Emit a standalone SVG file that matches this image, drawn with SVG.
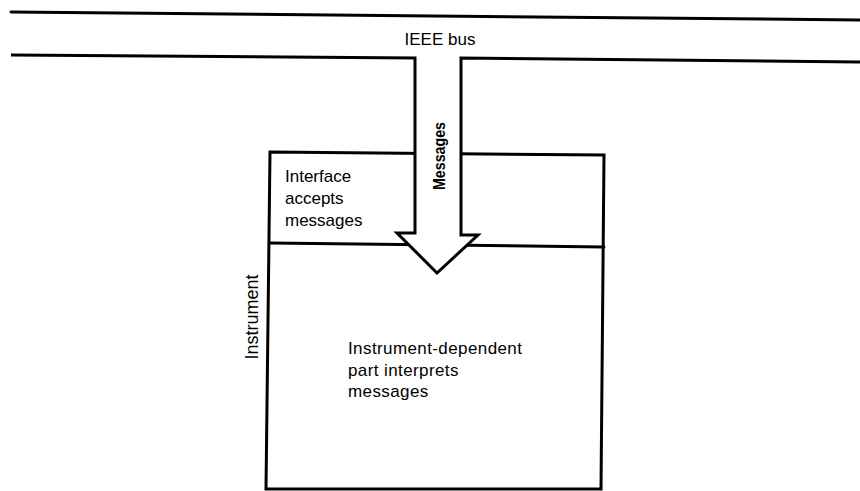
<svg xmlns="http://www.w3.org/2000/svg" width="860" height="491" viewBox="0 0 860 491">
<style>
.ln{fill:none;stroke:#000;stroke-width:3;stroke-linejoin:miter;stroke-linecap:round}
.ar{fill:#fff;stroke:#000;stroke-width:3;stroke-linejoin:miter}
text{font-family:"Liberation Sans",Arial,sans-serif;fill:#000}
.t{font-size:17px}
.s{font-size:16px;font-weight:bold}
</style>
<rect width="860" height="491" fill="#fff"/>
<g id="bus">
<line class="ln" x1="11" y1="12" x2="860" y2="20"/>
<text class="t" x="440" y="45" text-anchor="middle">IEEE bus</text>
</g>
<g id="instrument">
<polygon class="ln" points="270,152 604,155 601,489 266,489"/>
<line class="ln" x1="270" y1="243" x2="604" y2="247"/>
<text class="t" transform="translate(258,317) rotate(-90)" text-anchor="middle" style="font-size:18px">Instrument</text>
</g>
<g id="interface">
<text class="t" x="285" y="182">Interface</text>
<text class="t" x="285" y="204">accepts</text>
<text class="t" x="285" y="226">messages</text>
</g>
<g id="dependent">
<text class="t" x="348" y="354" letter-spacing="0.4">Instrument-dependent</text>
<text class="t" x="348" y="376" letter-spacing="0.4">part interprets</text>
<text class="t" x="348" y="397" letter-spacing="0.4">messages</text>
</g>
<g id="connectors">
<path class="ar" d="M11,55 L415,58 L415,233 L397,233 L437,273 L478,235 L461,235 L461,58 L860,62"/>
<text class="s" transform="translate(445,190) rotate(-90)" textLength="68" lengthAdjust="spacingAndGlyphs">Messages</text>
</g>
</svg>
